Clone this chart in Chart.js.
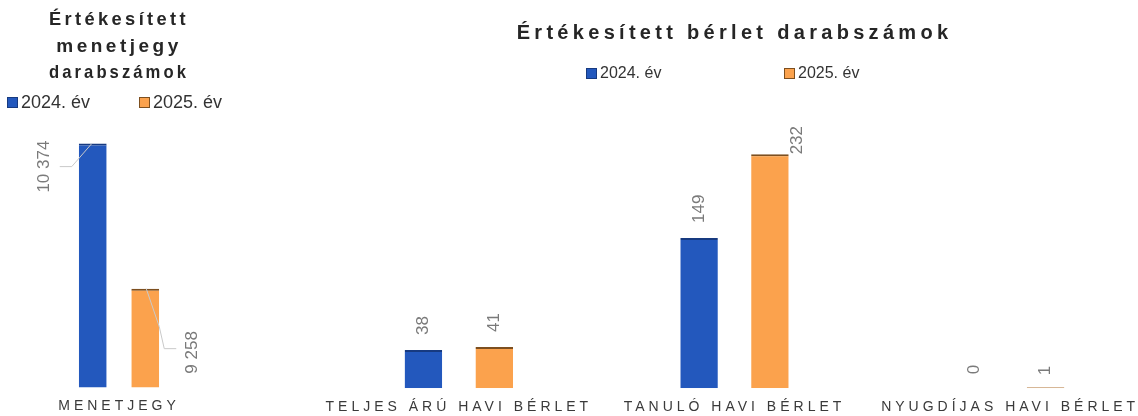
<!DOCTYPE html>
<html>
<head>
<meta charset="utf-8">
<script src="https://cdn.jsdelivr.net/npm/chart.js@4/dist/chart.umd.min.js"></script>
<style>
  html, body { margin: 0; padding: 0; background: #fff; overflow: hidden; }
  body { width: 1138px; height: 416px; position: relative; }
  .box { position: absolute; top: 0; }
  .legend { position: absolute; display: flex; font-family: 'Liberation Sans', Arial, sans-serif; color: #333; line-height: 20px; }
  .legend .item { display: flex; align-items: center; }
  .legend i { display: inline-block; width: 9px; height: 9px; margin-right: 3px; border: 1px solid; }
</style>
</head>
<body>
<div class="box" style="left:0;width:220px;height:428px"><canvas id="ticketChart" width="220" height="428"></canvas></div>
<div class="box" style="left:300px;width:860px;height:428px"><canvas id="passChart" width="860" height="428"></canvas></div>
<div class="legend" id="ticketLegend" style="left:7px;top:92px;font-size:18px"></div>
<div class="legend" id="passLegend" style="left:586px;top:63px;font-size:16px"></div>
<script>
// values
const seriesLabels = ['2024. év', '2025. év'];
const ticketCategories = ['MENETJEGY'];
const ticket2024 = [10374];
const ticket2025 = [9258];
const passCategories = ['TELJES ÁRÚ HAVI BÉRLET', 'TANULÓ HAVI BÉRLET', 'NYUGDÍJAS HAVI BÉRLET'];
const pass2024 = [38, 149, 0];
const pass2025 = [41, 232, 1];

const FONT = "'Liberation Sans', Arial, sans-serif";
const BLUE = '#2358bd', BLUE_EDGE = '#173a80';
const ORANGE = '#fba24d', ORANGE_EDGE = '#7d4f1f';

function fmt(v) {
  return String(v).replace(/\B(?=(\d{3})+(?!\d))/g, ' ');
}

// canvas letter spacing for the title and the category labels
function wrapSpacing(obj, name, sp) {
  if (!obj || obj['_sp_' + name]) return;
  const orig = obj[name];
  obj['_sp_' + name] = true;
  obj[name] = function(...args) {
    const ctx = this.ctx;
    const old = ctx.letterSpacing;
    ctx.letterSpacing = sp;
    orig.apply(this, args);
    ctx.letterSpacing = old;
  };
}
const spacing = {
  id: 'spacing',
  beforeDraw(chart, args, opts) {
    wrapSpacing(chart.titleBlock, 'draw', opts.title);
    wrapSpacing(chart.scales.x, 'drawLabels', opts.ticks);
  }
};

// rotated value labels above the bars, with optional leader lines
const valueLabels = {
  id: 'valueLabels',
  afterDatasetsDraw(chart, args, opts) {
    const ctx = chart.ctx;
    ctx.save();
    chart.data.datasets.forEach((ds, di) => {
      const meta = chart.getDatasetMeta(di);
      meta.data.forEach((bar, i) => {
        const tw = (opts.tweaks[di] && opts.tweaks[di][i]) || {};
        const dx = tw.dx || 0;
        const gap = tw.gap !== undefined ? tw.gap : opts.gap;
        if (tw.leader) {
          ctx.strokeStyle = '#c9c9c9';
          ctx.lineWidth = 1;
          ctx.beginPath();
          tw.leader.forEach((p, k) => {
            const px = bar.x + p[0], py = bar.y + p[1];
            if (k === 0) ctx.moveTo(px, py); else ctx.lineTo(px, py);
          });
          ctx.stroke();
        }
        ctx.save();
        ctx.translate(bar.x + dx, bar.y - gap);
        ctx.rotate(-Math.PI / 2);
        ctx.font = opts.font;
        ctx.fillStyle = opts.color;
        ctx.textAlign = 'left';
        ctx.textBaseline = 'middle';
        ctx.fillText(fmt(ds.data[i]), 0, 0);
        ctx.restore();
      });
    });
    ctx.restore();
  }
};

function buildLegend(id, itemWidth) {
  const colors = [[BLUE, BLUE_EDGE], [ORANGE, ORANGE_EDGE]];
  document.getElementById(id).innerHTML = seriesLabels.map((t, i) =>
    `<span class="item" style="width:${itemWidth}px"><i style="background:${colors[i][0]};border-color:${colors[i][1]}"></i>${t}</span>`
  ).join('');
}
buildLegend('ticketLegend', 132);
buildLegend('passLegend', 198);

function barDataset(label, data, color, edge, catPct, barPct) {
  return {
    label: label,
    data: data,
    backgroundColor: color,
    borderColor: edge,
    borderWidth: { top: 2, left: 0, right: 0, bottom: 0 },
    categoryPercentage: catPct,
    barPercentage: barPct
  };
}

function xAxis() {
  return {
    grid: { display: false, drawTicks: false },
    border: { display: false },
    ticks: { font: { family: FONT, size: 14 }, color: '#3a3a3a', padding: 11, maxRotation: 0, autoSkip: false }
  };
}

var ticketChart = new Chart(document.getElementById('ticketChart'), {
  type: 'bar',
  data: {
    labels: ticketCategories,
    datasets: [
      barDataset(seriesLabels[0], ticket2024, BLUE, BLUE_EDGE, 0.75, 0.53),
      barDataset(seriesLabels[1], ticket2025, ORANGE, ORANGE_EDGE, 0.75, 0.53)
    ]
  },
  plugins: [spacing, valueLabels],
  options: {
    responsive: false,
    animation: false,
    devicePixelRatio: 1,
    layout: { padding: { left: 49, right: 31, top: 0, bottom: 2 } },
    scales: {
      x: xAxis(),
      y: { display: false, min: 8500, max: 10500 }
    },
    plugins: {
      legend: { display: false },
      tooltip: { enabled: false },
      title: {
        display: true,
        text: ['Értékesített', 'menetjegy', 'darabszámok'],
        color: '#262626',
        font: { family: FONT, size: 19, weight: 'bold', lineHeight: 1.39 },
        padding: { top: 7, bottom: 41 }
      },
      spacing: { title: '3.5px', ticks: '4px' },
      valueLabels: {
        font: '17px ' + FONT,
        color: '#7a7a7a',
        gap: 15,
        tweaks: [
          [{ dx: -48, gap: -49, leader: [[-33, 23], [-21, 23], [-1, 0]] }],
          [{ dx: 47, gap: -85, leader: [[1, 0], [14, 38], [19, 60], [31, 60]] }]
        ]
      }
    }
  }
});

var passChart = new Chart(document.getElementById('passChart'), {
  type: 'bar',
  data: {
    labels: passCategories,
    datasets: [
      barDataset(seriesLabels[0], pass2024, BLUE, BLUE_EDGE, 0.514, 0.53),
      barDataset(seriesLabels[1], pass2025, ORANGE, ORANGE_EDGE, 0.514, 0.53)
    ]
  },
  plugins: [spacing, valueLabels],
  options: {
    responsive: false,
    animation: false,
    devicePixelRatio: 1,
    layout: { padding: { left: 21, right: 12, top: 0, bottom: 1 } },
    scales: {
      x: xAxis(),
      y: { display: false, min: 0, max: 278 }
    },
    plugins: {
      legend: { display: false },
      tooltip: { enabled: false },
      title: {
        display: true,
        text: 'Értékesített bérlet darabszámok',
        color: '#262626',
        font: { family: FONT, size: 20, weight: 'bold', lineHeight: 1.2 },
        padding: { top: 21, bottom: 63 }
      },
      spacing: { title: '4.3px', ticks: '4px' },
      valueLabels: {
        font: '17px ' + FONT,
        color: '#7a7a7a',
        gap: 15,
        tweaks: [
          [{}, {}, { gap: 14 }],
          [{}, { dx: 27, gap: 0 }, { gap: 12 }]
        ]
      }
    }
  }
});
</script>
</body>
</html>
